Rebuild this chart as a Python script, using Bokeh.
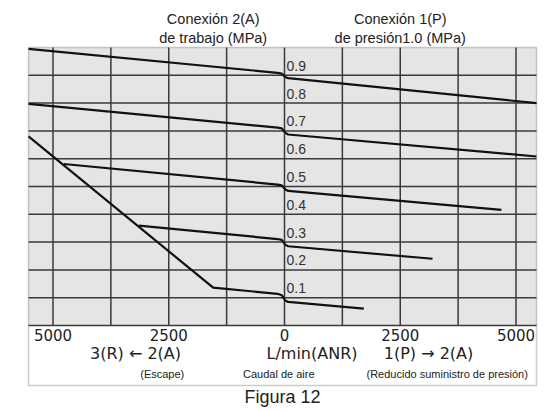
from bokeh.plotting import figure
from bokeh.models import Range1d, BoxAnnotation, Label
from bokeh.core.properties import value
from bokeh.embed import file_html
from bokeh.resources import INLINE

# ---- data (flow L/min ANR: negative = 2(A)->3(R) exhaust side; pressure MPa) ----
flow1 = [-5529, -150, -60, 20, 80, 5443]
pres1 = [0.995, 0.909, 0.906, 0.893, 0.890, 0.800]
flow2 = [-5529, -150, -60, 20, 80, 5443]
pres2 = [0.797, 0.712, 0.709, 0.693, 0.687, 0.608]
flow3 = [-4767, -150, -60, 20, 80, 4685]
pres3 = [0.581, 0.507, 0.504, 0.489, 0.484, 0.416]
flow4 = [-3147, -150, -60, 20, 80, 3197]
pres4 = [0.359, 0.311, 0.308, 0.290, 0.285, 0.240]
flow5 = [-5529, -1540, -150, -60, 20, 80, 1713]
pres5 = [0.680, 0.136, 0.114, 0.109, 0.089, 0.085, 0.061]

xtick_vals = [-5000, -2500, 0, 2500, 5000]
xtick_labels = ["5000", "2500", "0", "2500", "5000"]
xgrid_vals = [-5000, -3750, -2500, -1250, 0, 1250, 2500, 3750, 5000]
ygrid_vals = [0.0, 0.1, 0.2, 0.3, 0.4, 0.5, 0.6, 0.7, 0.8, 0.9]
ylab_vals = [0.1, 0.2, 0.3, 0.4, 0.5, 0.6, 0.7, 0.8, 0.9]
ylab_texts = ["0.1", "0.2", "0.3", "0.4", "0.5", "0.6", "0.7", "0.8", "0.9"]

# chart box limits (data units)
X0, X1 = -5529, 5443
Y_TOP, Y_BOX = 1.0, -0.2158
PX = 278.0  # pixels per MPa

p = figure(width=553, height=411, output_backend="svg", toolbar_location=None,
           title=None, x_axis_location=None, y_axis_location=None,
           x_range=Range1d(-6134, 5810), y_range=Range1d(-0.3094, 1.1691),
           min_border=0, min_border_left=0, min_border_right=0,
           min_border_top=0, min_border_bottom=0)
p.grid.visible = False
p.background_fill_color = "white"
p.border_fill_color = "white"
p.outline_line_color = None

# gray chart area
p.add_layout(BoxAnnotation(left=X0, right=X1, bottom=0, top=Y_TOP, fill_color="#e5e5e5",
                           fill_alpha=1, line_alpha=0, level="image"))
# outer box border
p.add_layout(BoxAnnotation(left=X0, right=X1, bottom=Y_BOX, top=Y_TOP, fill_alpha=0,
                           line_color="#555555", line_width=1.5, level="overlay"))
# horizontal grid
p.segment(x0=[X0] * len(ygrid_vals), y0=ygrid_vals, x1=[X1] * len(ygrid_vals), y1=ygrid_vals,
          line_color="#3a3a3a", line_width=1.5)
# vertical grid
p.segment(x0=xgrid_vals, y0=[0] * len(xgrid_vals), x1=xgrid_vals, y1=[Y_TOP] * len(xgrid_vals),
          line_color="#3a3a3a", line_width=1.5)

# curves
for fx, py in [(flow1, pres1), (flow2, pres2), (flow3, pres3), (flow4, pres4), (flow5, pres5)]:
    p.line(fx, py, line_color="#111111", line_width=2.2, line_join="round")

# pressure labels along the 0 flow line (just above each grid line)
p.text(x=[0] * len(ylab_vals), y=[v + 9.5 / PX for v in ylab_vals], text=ylab_texts, x_offset=2,
       text_font=value("Liberation Sans"), text_font_size="14px", text_color="#333333",
       text_align="left", text_baseline="alphabetic")

# flow tick labels
p.text(x=xtick_vals, y=[-9.5 / PX] * len(xtick_vals), text=xtick_labels,
       text_font=value("DejaVu Sans"), text_font_size="15px", text_color="#222222",
       text_align="center", text_baseline="alphabetic")

for xv, txt in [(-3218, "3(R) \u2190 2(A)"), (594, "L/min(ANR)"), (3110, "1(P) \u2192 2(A)")]:
    p.add_layout(Label(x=xv, y=-28.0 / PX, text=txt, text_font="DejaVu Sans",
                       text_font_size="16px", text_color="#222222", text_align="center",
                       text_baseline="alphabetic"))

for xv, txt in [(-2641, "(Escape)"), (-123, "Caudal de aire"),
                (3514, "(Reducido suministro de presión)")]:
    p.add_layout(Label(x=xv, y=-48.5 / PX, text=txt, text_font="Liberation Sans",
                       text_font_size="11px", text_color="#222222", text_align="center",
                       text_baseline="alphabetic"))

# titles above the chart
for xv, yv, txt in [(-1540, 307 / PX, "Conexión 2(A)"), (-1540, 287.5 / PX, "de trabajo (MPa)"),
                    (2500, 307 / PX, "Conexión 1(P)"), (2500, 287.5 / PX, "de presión1.0 (MPa)")]:
    p.add_layout(Label(x=xv, y=yv, text=txt, text_font="Liberation Sans",
                       text_font_size="14.5px", text_color="#222222", text_align="center",
                       text_baseline="alphabetic"))

p.add_layout(Label(x=-43, y=-71.5 / PX, text="Figura 12", text_font="Liberation Sans",
                   text_font_size="18px", text_color="#222222", text_align="center",
                   text_baseline="alphabetic"))

open("out.html", "w").write(file_html(p, INLINE))
